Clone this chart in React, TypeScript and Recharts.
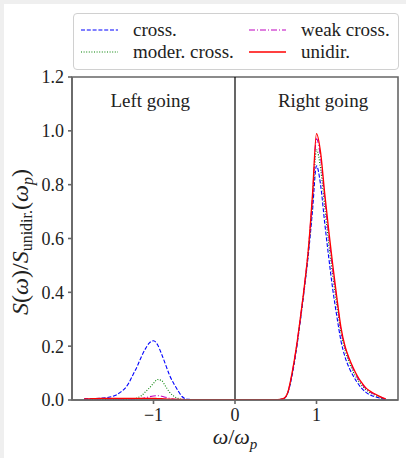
import React from 'react';
import {
  LineChart,
  Line,
  XAxis,
  YAxis,
  ReferenceLine,
  ReferenceArea,
  ReferenceDot,
} from 'recharts';

// frequency grid, omega / omega_p
const OMEGA = [
  -1.85, -1.75, -1.65, -1.55, -1.5, -1.45, -1.4, -1.35, -1.3, -1.25, -1.2, -1.15, -1.1, -1.05, -1.0,
  -0.95, -0.9, -0.85, -0.8, -0.75, -0.7, -0.65, -0.6, -0.55, -0.5,
  -0.4, -0.2, 0, 0.2, 0.4, 0.5,
  0.55, 0.6, 0.65, 0.7, 0.75, 0.8, 0.85, 0.9, 0.95, 1.0, 1.05, 1.1, 1.15, 1.2, 1.25, 1.3, 1.35,
  1.4, 1.45, 1.5, 1.55, 1.6, 1.65, 1.7, 1.75, 1.8, 1.85,
];

const CROSS = [
  0.004, 0.005, 0.007, 0.01, 0.014, 0.02, 0.03, 0.043, 0.065, 0.095, 0.125, 0.16, 0.19, 0.212, 0.22,
  0.205, 0.17, 0.13, 0.09, 0.06, 0.035, 0.013, 0.004, 0.002, 0.001,
  0.001, 0.001, 0.001, 0.001, 0.001, 0.001,
  0.002, 0.005, 0.028, 0.09, 0.18, 0.29, 0.41, 0.54, 0.7, 0.87, 0.8, 0.66, 0.53, 0.41, 0.31, 0.22, 0.16,
  0.12, 0.09, 0.065, 0.045, 0.03, 0.02, 0.014, 0.009, 0.005, 0.002,
];

const MODER = [
  0.002, 0.002, 0.002, 0.002, 0.002, 0.002, 0.002, 0.002, 0.002, 0.003, 0.008, 0.016, 0.03, 0.045, 0.062,
  0.076, 0.072, 0.05, 0.028, 0.014, 0.006, 0.002, 0.001, 0.001, 0.001,
  0.001, 0.001, 0.001, 0.001, 0.001, 0.001,
  0.002, 0.005, 0.029, 0.095, 0.185, 0.295, 0.415, 0.55, 0.73, 0.93, 0.86, 0.72, 0.58, 0.46, 0.35, 0.25, 0.185,
  0.14, 0.105, 0.078, 0.056, 0.04, 0.028, 0.02, 0.013, 0.007, 0.003,
];

const WEAK = [
  0.003, 0.003, 0.003, 0.003, 0.003, 0.003, 0.003, 0.003, 0.003, 0.003, 0.003, 0.005, 0.008, 0.012, 0.015,
  0.016, 0.014, 0.01, 0.006, 0.003, 0.002, 0.001, 0.001, 0.001, 0.001,
  0.001, 0.001, 0.001, 0.001, 0.001, 0.001,
  0.002, 0.006, 0.03, 0.098, 0.188, 0.3, 0.42, 0.56, 0.75, 0.97, 0.9, 0.75, 0.61, 0.48, 0.37, 0.26, 0.195,
  0.15, 0.115, 0.085, 0.062, 0.044, 0.031, 0.023, 0.015, 0.009, 0.003,
];

const UNIDIR = [
  0.004, 0.005, 0.006, 0.006, 0.006, 0.006, 0.006, 0.006, 0.006, 0.006, 0.006, 0.006, 0.006, 0.006, 0.006,
  0.005, 0.005, 0.004, 0.003, 0.003, 0.002, 0.002, 0.001, 0.001, 0.001,
  0.001, 0.001, 0.001, 0.001, 0.001, 0.001,
  0.002, 0.006, 0.03, 0.1, 0.19, 0.3, 0.42, 0.56, 0.76, 0.99, 0.92, 0.77, 0.63, 0.5, 0.38, 0.27, 0.2,
  0.155, 0.12, 0.09, 0.066, 0.047, 0.034, 0.025, 0.017, 0.01, 0.004,
];

const X_TICKS = [-1, 0, 1];
const Y_TICKS = [0, 0.2, 0.4, 0.6, 0.8, 1.0, 1.2];

const SERIES = [
  { key: 'cross', name: 'cross.', color: '#0000ff', dash: '4 1.8', width: 1.1 },
  { key: 'moder', name: 'moder. cross.', color: '#008000', dash: '1 1.6', width: 1.1 },
  { key: 'weak', name: 'weak cross.', color: '#bf00bf', dash: '6 2 1 2', width: 1.1 },
  { key: 'unidir', name: 'unidir.', color: '#ff0000', dash: undefined, width: 1.3 },
];

const data = OMEGA.map((w, i) => ({
  w,
  cross: CROSS[i],
  moder: MODER[i],
  weak: WEAK[i],
  unidir: UNIDIR[i],
}));

const FONT = 'Liberation Serif';
const AXIS = '#666';

const YLabel = () => (
  <text transform="translate(24,238) rotate(-90)" textAnchor="middle" fontFamily={FONT} fontSize={24} fill="#222">
    <tspan fontStyle="italic">S</tspan>
    <tspan>(</tspan>
    <tspan fontStyle="italic">ω</tspan>
    <tspan>)/</tspan>
    <tspan fontStyle="italic">S</tspan>
    <tspan fontSize={16} dy={4}>unidir.</tspan>
    <tspan dy={-4}>(</tspan>
    <tspan fontStyle="italic">ω</tspan>
    <tspan fontStyle="italic" fontSize={16} dy={5}>p</tspan>
    <tspan dy={-5}>)</tspan>
  </text>
);

const XLabel = () => (
  <text x={231} y={440} textAnchor="middle" fontFamily={FONT} fontSize={22} fill="#222">
    <tspan fontStyle="italic">ω</tspan>
    <tspan>/</tspan>
    <tspan fontStyle="italic">ω</tspan>
    <tspan fontStyle="italic" fontSize={15} dy={5}>p</tspan>
  </text>
);

function LegendBox() {
  const pos = [
    { left: 6, top: 16 },
    { left: 6, top: 38 },
    { left: 174, top: 16 },
    { left: 174, top: 38 },
  ];
  return (
    <div
      style={{
        position: 'absolute',
        left: 69,
        top: 9,
        width: 324,
        height: 55,
        border: '1px solid #d0d0d0',
        borderRadius: 4,
        background: 'rgba(255,255,255,0.85)',
        fontFamily: FONT,
        fontSize: 19,
        color: '#222',
      }}
    >
      {SERIES.map((s, i) => (
        <div
          key={s.key}
          style={{ position: 'absolute', left: pos[i].left, top: pos[i].top - 11, height: 22, display: 'flex', alignItems: 'center' }}
        >
          <svg width={40} height={10} style={{ marginRight: 13 }}>
            <line x1={1} y1={5} x2={38} y2={5} stroke={s.color} strokeWidth={s.width} strokeDasharray={s.dash} />
          </svg>
          <span style={{ whiteSpace: 'nowrap' }}>{s.name}</span>
        </div>
      ))}
    </div>
  );
}

const tickStyle = { fontFamily: FONT, fontSize: 18, fill: '#222' };

export default function App() {
  return (
    <div style={{ position: 'absolute', left: 0, top: 0, width: 406, height: 458, background: '#efefef' }}>
      <div style={{ position: 'absolute', left: 4, top: 4, width: 402, height: 454, background: '#fff' }}>
        <LineChart width={402} height={454} data={data} margin={{ top: 73, right: 8, bottom: 0, left: 0 }}>
          <XAxis
            type="number"
            dataKey="w"
            domain={[-2, 2]}
            ticks={X_TICKS}
            allowDataOverflow
            height={58}
            tickSize={4}
            tickMargin={4}
            stroke={AXIS}
            strokeWidth={1.6}
            tick={tickStyle}
            tickFormatter={(v: number) => (v < 0 ? `−${-v}` : String(v))}
            label={{ content: () => <XLabel /> }}
          />
          <YAxis
            type="number"
            domain={[0, 1.2]}
            ticks={Y_TICKS}
            allowDataOverflow
            width={68}
            tickSize={4}
            tickMargin={4}
            stroke={AXIS}
            strokeWidth={1.6}
            tick={tickStyle}
            tickFormatter={(v: number) => v.toFixed(1)}
            label={{ content: () => <YLabel /> }}
          />
          <ReferenceArea x1={-2} x2={2} y1={0} y2={1.2} fill="none" stroke={AXIS} strokeWidth={1.6} />
          <ReferenceLine x={0} stroke="#000" strokeWidth={1.2} />
          {SERIES.map((s) => (
            <Line
              key={s.key}
              type="monotone"
              dataKey={s.key}
              name={s.name}
              stroke={s.color}
              strokeWidth={s.width}
              strokeDasharray={s.dash}
              dot={false}
              isAnimationActive={false}
            />
          ))}
          <ReferenceDot
            x={-1.04}
            y={1.115}
            r={0}
            fill="none"
            stroke="none"
            label={{ value: 'Left going', position: 'center', fontFamily: FONT, fontSize: 19, fill: '#222' }}
          />
          <ReferenceDot
            x={1.08}
            y={1.115}
            r={0}
            fill="none"
            stroke="none"
            label={{ value: 'Right going', position: 'center', fontFamily: FONT, fontSize: 19, fill: '#222' }}
          />
        </LineChart>
        <LegendBox />
      </div>
    </div>
  );
}
